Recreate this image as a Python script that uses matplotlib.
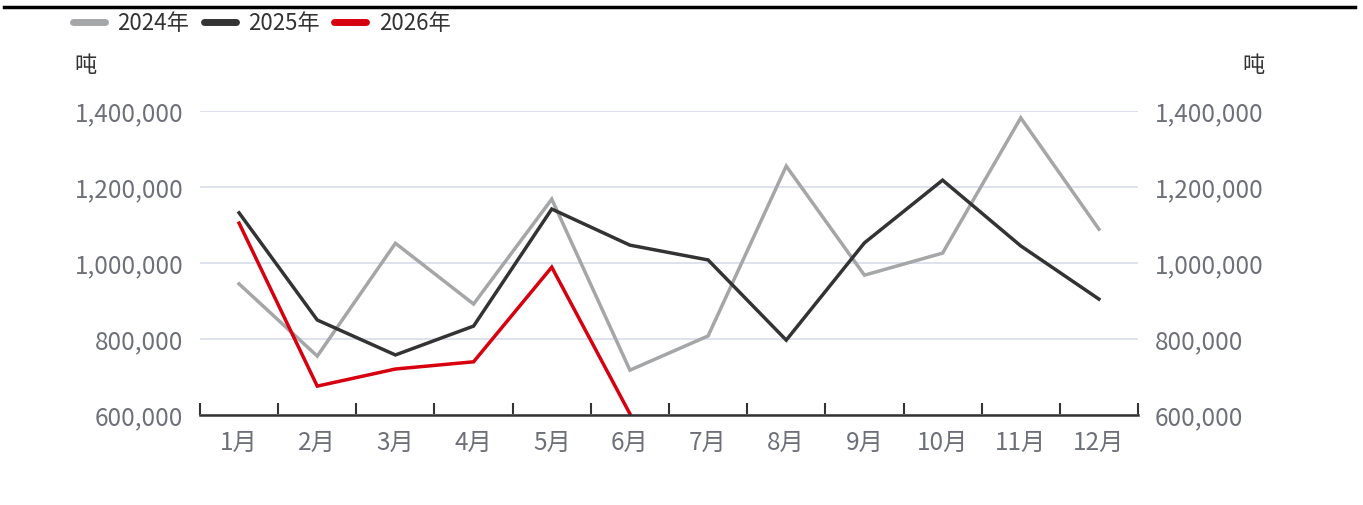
import matplotlib
matplotlib.use("Agg")
import matplotlib.pyplot as plt
from matplotlib.ticker import FuncFormatter, FixedLocator

plt.rcParams['font.family'] = ['Noto Sans CJK SC', 'DejaVu Sans']

# data (tons)
months = ['1月', '2月', '3月', '4月', '5月', '6月', '7月', '8月', '9月', '10月', '11月', '12月']
y2024 = [945000, 755000, 1052000, 892000, 1168000, 718000, 808000, 1255000, 968000, 1026000, 1382000, 1089000]
y2025 = [1132000, 850000, 758000, 834000, 1142000, 1047000, 1008000, 797000, 1053000, 1218000, 1045000, 905000]
y2026 = [1105000, 676000, 721000, 740000, 989000, 603000]
series_names = ['2024年', '2025年', '2026年']
colors = ['#A5A6A8', '#333333', '#D7000F']
yticks = [600000, 800000, 1000000, 1200000, 1400000]

W, H = 1363, 505
fig = plt.figure(figsize=(W / 100, H / 100), dpi=100)
ax = fig.add_axes([200 / W, 1 - 415 / H, 938 / W, 304 / H])

x = list(range(len(months)))
lines = []
for vals, c, name in zip([y2024, y2025, y2026], colors, series_names):
    ln, = ax.plot(x[:len(vals)], vals, color=c, lw=2.5, label=name,
                  solid_joinstyle='miter', clip_on=True, zorder=3)
    lines.append(ln)

ax.set_xlim(-0.5, len(months) - 0.5)
ax.set_ylim(yticks[0], yticks[-1])

tick_col = '#6E7079'
fs = 17.5
fmt = FuncFormatter(lambda v, p: f'{int(v):,}')
ax.yaxis.set_major_locator(FixedLocator(yticks))
ax.yaxis.set_major_formatter(fmt)
ax.tick_params(axis='y', length=0, pad=12, labelsize=fs, labelcolor=tick_col)
ax.grid(axis='y', color='#DDE2EE', lw=1.4, zorder=0)

# category axis: ticks at the boundaries, labels at the centres
ax.set_xticks([i - 0.5 for i in range(len(months) + 1)])
ax.set_xticklabels([])
ax.set_xticks(x, minor=True)
ax.set_xticklabels(months, minor=True)
ax.tick_params(axis='x', which='major', direction='in', length=9, width=1.5, color='#333333')
ax.tick_params(axis='x', which='minor', length=0, pad=11, labelsize=fs, labelcolor=tick_col)

for s in ['top', 'left', 'right']:
    ax.spines[s].set_visible(False)
ax.spines['bottom'].set_color('#333333')
ax.spines['bottom'].set_linewidth(1.8)
ax.spines['bottom'].set_zorder(4)

ax2 = ax.twinx()
ax2.set_ylim(ax.get_ylim())
ax2.yaxis.set_major_locator(FixedLocator(yticks))
ax2.yaxis.set_major_formatter(fmt)
ax2.tick_params(axis='y', length=0, pad=12, labelsize=fs, labelcolor=tick_col)
for s in ax2.spines.values():
    s.set_visible(False)

# unit labels
fig.text(85 / W, 1 - 65 / H, '吨', ha='center', va='center', fontsize=16, color='#333333')
fig.text(1253 / W, 1 - 65 / H, '吨', ha='center', va='center', fontsize=16, color='#333333')

# top rule
fig.add_artist(plt.Line2D([4 / W, 1355 / W], [1 - 7 / H, 1 - 7 / H], color='black', lw=2.5))

leg = fig.legend(lines, series_names, loc='upper left', bbox_to_anchor=(64 / W, 1 - 3 / H),
                 ncol=3, frameon=False, fontsize=16, handlelength=1.45, handletextpad=0.55,
                 columnspacing=0.65, borderaxespad=0)
for t in leg.get_texts():
    t.set_color('#333333')
for h in leg.get_lines():
    h.set_linewidth(5)
    h.set_solid_capstyle('round')

fig.savefig('out.png', dpi=100)
